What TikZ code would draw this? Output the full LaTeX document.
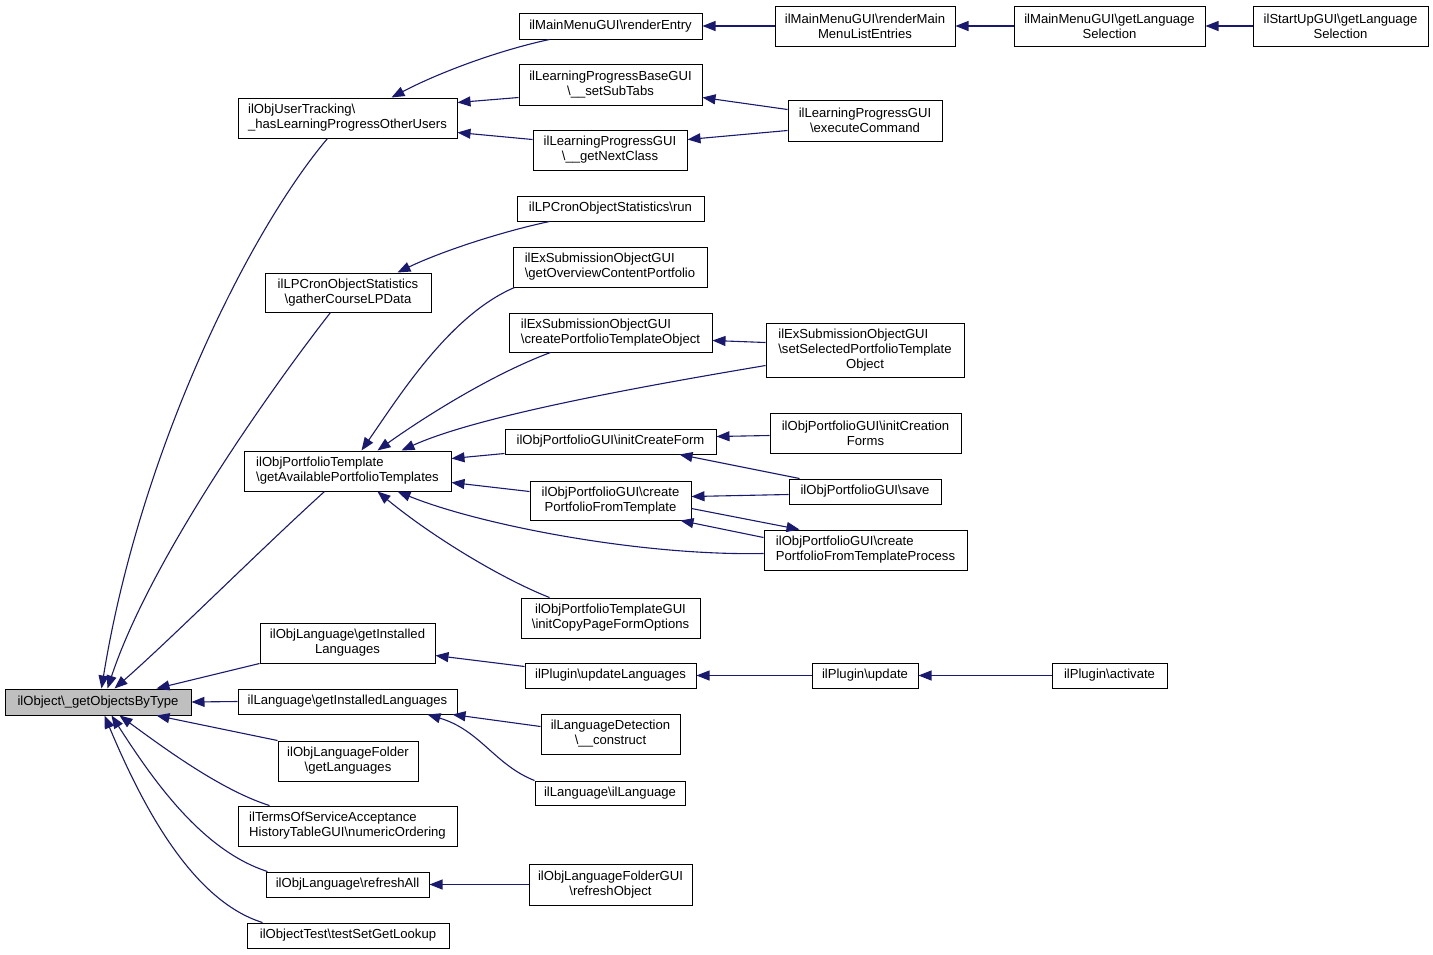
\documentclass[tikz,border=0pt]{standalone}
\usepackage{fontspec}
\setmainfont{Liberation Sans}
\usetikzlibrary{arrows.meta,calc}
\definecolor{mblue}{RGB}{25,25,112}
\definecolor{nodegray}{RGB}{191,191,191}
\definecolor{boxline}{RGB}{0,0,0}
\newcommand\BSL{\textbackslash}
\newcommand\boxnode[7]{\node[box,#6,minimum width={(#4-#2)*1pt},minimum height={(#5-#3)*1pt}] (#1) at ({(#2+#4)/2},{(#3+#5)/2}) {#7};}
\tikzset{
  box/.style={draw=boxline, line width=1pt, inner sep=0pt, fill=white, align=center,
    font=\fontsize{13.1}{15}\selectfont},
  lbox/.style={align=left},
  callarrow/.style={draw=mblue, line width=1.1pt, -{Triangle[length=13pt,width=10pt]}, fill=none},
}
\begin{document}
\begin{tikzpicture}[x=1pt,y=-1pt]
\useasboundingbox (0,0) rectangle (1433,954);
% nodes
\boxnode{obj}{5}{689}{191}{715}{fill=nodegray}{ilObject\BSL\_getObjectsByType}
\boxnode{ut}{238}{98}{457}{138}{lbox}{ilObjUserTracking\BSL\\\_hasLearningProgressOtherUsers}
\boxnode{renderEntry}{519}{13}{702}{39}{}{ilMainMenuGUI\BSL renderEntry}
\boxnode{renderMain}{775}{6}{955}{46}{}{ilMainMenuGUI\BSL renderMain\\MenuListEntries}
\boxnode{mmgetlang}{1014}{6}{1205}{46}{}{ilMainMenuGUI\BSL getLanguage\\Selection}
\boxnode{startup}{1253}{6}{1428}{46}{}{ilStartUpGUI\BSL getLanguage\\Selection}
\boxnode{lpbase}{519}{64}{702}{105}{}{ilLearningProgressBaseGUI\\\BSL\_\_setSubTabs}
\boxnode{lpexec}{788}{100}{942}{141}{}{ilLearningProgressGUI\\\BSL executeCommand}
\boxnode{lpnext}{533}{130}{687}{170}{}{ilLearningProgressGUI\\\BSL\_\_getNextClass}
\boxnode{lprun}{517}{196}{704}{221}{}{ilLPCronObjectStatistics\BSL run}
\boxnode{lpcron}{265}{273}{431}{312}{}{ilLPCronObjectStatistics\\\BSL gatherCourseLPData}
\boxnode{exover}{513}{247}{707}{287}{lbox}{ilExSubmissionObjectGUI\\\BSL getOverviewContentPortfolio}
\boxnode{pt}{244}{451}{451}{491}{lbox}{ilObjPortfolioTemplate\\\BSL getAvailablePortfolioTemplates}
\boxnode{excreate}{509}{313}{712}{352}{lbox}{ilExSubmissionObjectGUI\\\BSL createPortfolioTemplateObject}
\boxnode{exsel}{766}{323}{964}{377}{}{\begin{tabular}{@{}l@{}}ilExSubmissionObjectGUI\\\BSL setSelectedPortfolioTemplate\\\multicolumn{1}{@{}c@{}}{Object}\end{tabular}}
\boxnode{initcreate}{505}{429}{716}{454}{}{ilObjPortfolioGUI\BSL initCreateForm}
\boxnode{initcreation}{770}{413}{961}{453}{}{ilObjPortfolioGUI\BSL initCreation\\Forms}
\boxnode{save}{789}{479}{941}{504}{}{ilObjPortfolioGUI\BSL save}
\boxnode{createpft}{530}{481}{691}{520}{}{ilObjPortfolioGUI\BSL create\\PortfolioFromTemplate}
\boxnode{createpftp}{764}{530}{967}{570}{lbox}{ilObjPortfolioGUI\BSL create\\PortfolioFromTemplateProcess}
\boxnode{ptgui}{521}{598}{700}{638}{}{ilObjPortfolioTemplateGUI\\\BSL initCopyPageFormOptions}
\boxnode{langinst}{260}{623}{435}{663}{}{ilObjLanguage\BSL getInstalled\\Languages}
\boxnode{lginst}{238}{689}{457}{714}{}{ilLanguage\BSL getInstalledLanguages}
\boxnode{lfolder}{278}{741}{418}{781}{}{ilObjLanguageFolder\\\BSL getLanguages}
\boxnode{tos}{238}{806}{457}{846}{lbox}{ilTermsOfServiceAcceptance\\HistoryTableGUI\BSL numericOrdering}
\boxnode{refresh}{266}{872}{429}{897}{}{ilObjLanguage\BSL refreshAll}
\boxnode{objtest}{247}{923}{449}{948}{}{ilObjectTest\BSL testSetGetLookup}
\boxnode{updlang}{525}{663}{696}{688}{}{ilPlugin\BSL updateLanguages}
\boxnode{update}{812}{663}{918}{688}{}{ilPlugin\BSL update}
\boxnode{activate}{1052}{663}{1167}{688}{}{ilPlugin\BSL activate}
\boxnode{langdet}{541}{714}{680}{754}{}{ilLanguageDetection\\\BSL\_\_construct}
\boxnode{illang}{535}{781}{685}{805}{}{ilLanguage\BSL ilLanguage}
\boxnode{lfgui}{529}{864}{692}{905}{}{ilObjLanguageFolderGUI\\\BSL refreshObject}
% edges into obj
\draw[callarrow] ($(ut.south west)+(90,0)$) .. controls (250,230) and (140,450) .. ($(obj.north west)+(97,0)$);
\draw[callarrow] ($(lpcron.south west)+(66,0)$) .. controls (270,390) and (150,560) .. ($(obj.north west)+(103,0)$);
\draw[callarrow] ($(pt.south west)+(81,0)$) .. controls (260,550) and (170,640) .. ($(obj.north west)+(110,0)$);
\draw[callarrow] (langinst.south west) -- ($(obj.north west)+(152,0)$);
\draw[callarrow] (lginst.west) -- (obj.east);
\draw[callarrow] (lfolder.north west) -- ($(obj.south west)+(152,0)$);
\draw[callarrow] ($(tos.north west)+(32,0)$) .. controls (220,790) and (160,745) .. ($(obj.south west)+(115,0)$);
\draw[callarrow] ($(refresh.north west)+(2,0)$) .. controls (200,850) and (150,775) .. ($(obj.south west)+(107,0)$);
\draw[callarrow] ($(objtest.north west)+(16,0)$) .. controls (190,900) and (140,800) .. ($(obj.south west)+(100,0)$);
% ut group
\draw[callarrow] ($(renderEntry.south west)+(31,0)$) .. controls (500,50) and (440,72) .. ($(ut.north west)+(154,0)$);
\draw[callarrow] ($(lpbase.south west)+(0,-8)$) -- ($(ut.north east)+(0,5)$);
\draw[callarrow] ($(lpnext.north west)+(0,10)$) -- ($(ut.south east)+(0,-6)$);
\draw[callarrow] (renderMain.west) -- (renderEntry.east);
\draw[callarrow] (mmgetlang.west) -- (renderMain.east);
\draw[callarrow] (startup.west) -- (mmgetlang.east);
\draw[callarrow] ($(lpexec.north west)+(0,10)$) -- ($(lpbase.south east)+(0,-8)$);
\draw[callarrow] ($(lpexec.south west)+(0,-11)$) -- ($(lpnext.north east)+(0,10)$);
% lpcron
\draw[callarrow] ($(lprun.south west)+(33,0)$) .. controls (500,232) and (440,252) .. ($(lpcron.north west)+(133,0)$);
% pt group
\draw[callarrow] ($(exover.south west)+(2,0)$) .. controls (450,315) and (400,395) .. ($(pt.north west)+(118,0)$);
\draw[callarrow] ($(excreate.south west)+(42,0)$) .. controls (490,375) and (420,420) .. ($(pt.north west)+(134,0)$);
\draw[callarrow] ($(exsel.south west)+(0,-12)$) .. controls (650,385) and (480,415) .. ($(pt.north west)+(158,0)$);
\draw[callarrow] ($(exsel.north west)+(0,20)$) -- ($(excreate.south east)+(0,-12)$);
\draw[callarrow] ($(initcreate.south west)+(0,-1)$) -- ($(pt.north east)+(0,8)$);
\draw[callarrow] ($(initcreation.north west)+(0,23)$) -- ($(initcreate.north east)+(0,8)$);
\draw[callarrow] ($(save.north west)+(11,0)$) -- ($(initcreate.south west)+(175,0)$);
\draw[callarrow] ($(createpft.north west)+(0,11)$) -- ($(pt.south east)+(0,-9)$);
\draw[callarrow] ($(save.south west)+(0,-10)$) -- ($(createpft.north east)+(0,16)$);
\draw[callarrow] ($(createpftp.north west)+(0,8)$) -- ($(createpft.south east)+(-11,0)$);
\draw[callarrow] ($(createpft.south east)+(0,-12)$) -- ($(createpftp.north west)+(36,0)$);
\draw[callarrow] ($(createpftp.south west)+(0,-17)$) .. controls (640,556) and (480,525) .. ($(pt.south west)+(154,0)$);
\draw[callarrow] ($(ptgui.north west)+(29,0)$) .. controls (500,578) and (430,535) .. ($(pt.south west)+(134,0)$);
% language group
\draw[callarrow] ($(updlang.north west)+(0,4)$) -- ($(langinst.south east)+(0,-8)$);
\draw[callarrow] (update.west) -- (updlang.east);
\draw[callarrow] (activate.west) -- (update.east);
\draw[callarrow] ($(langdet.north west)+(0,13)$) -- ($(lginst.south east)+(-5,0)$);
\draw[callarrow] (illang.north west) .. controls (495,765) and (480,730) .. ($(lginst.south west)+(190,0)$);
\draw[callarrow] (lfgui.west) -- (refresh.east);
\end{tikzpicture}
\end{document}
